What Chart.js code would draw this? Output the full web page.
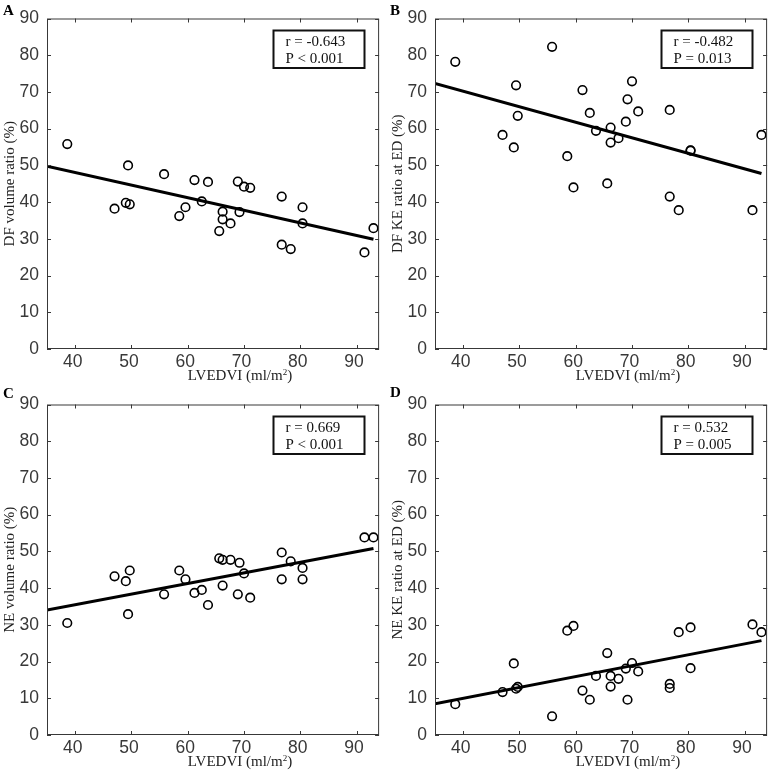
<!DOCTYPE html>
<html>
<head>
<meta charset="utf-8">
<script src="https://cdn.jsdelivr.net/npm/chart.js@4.4.1/dist/chart.umd.min.js"></script>
<style>
  html, body { margin: 0; padding: 0; background: #fff; overflow: hidden; width: 771px; height: 773px; }
  canvas { position: absolute; }
</style>
</head>
<body>
<canvas id="cA"></canvas>
<canvas id="cB"></canvas>
<canvas id="cC"></canvas>
<canvas id="cD"></canvas>
<script>
// ---------- data ----------
const xTicks = [40, 50, 60, 70, 80, 90];
const yTicks = [0, 10, 20, 30, 40, 50, 60, 70, 80, 90];

const lvedvi = [38.6, 47.0, 49.0, 49.4, 49.7, 55.8, 58.5, 59.6, 61.2, 62.5, 63.6, 65.6, 66.2,
                66.2, 67.6, 68.9, 69.2, 70.0, 71.1, 76.7, 76.7, 78.3, 80.4, 80.4, 91.4, 93.0];

const dfVolumeRatio = [55.8, 38.2, 39.8, 50.0, 39.4, 47.6, 36.2, 38.6, 46.0, 40.2, 45.5, 32.1, 37.4,
                       35.3, 34.2, 45.6, 37.3, 44.2, 43.9, 41.5, 28.4, 27.2, 38.6, 34.2, 26.3, 32.9];
const dfKERatio = [78.2, 58.3, 54.9, 71.8, 63.5, 82.3, 52.5, 44.0, 70.5, 64.3, 59.4, 45.1, 60.3,
                   56.2, 57.4, 61.9, 68.0, 72.9, 64.7, 65.1, 41.5, 37.8, 54.1, 54.0, 37.8, 58.3];
const neVolumeRatio = [30.5, 43.2, 41.9, 32.9, 44.8, 38.3, 44.8, 42.4, 38.7, 39.5, 35.4, 48.1, 47.7,
                       40.7, 47.7, 38.3, 46.9, 44.0, 37.4, 49.7, 42.4, 47.3, 45.5, 42.4, 53.8, 53.8];
const neKERatio = [8.4, 11.7, 19.5, 12.6, 13.1, 5.1, 28.4, 29.7, 12.1, 9.6, 16.1, 22.3, 16.1,
                   13.2, 15.3, 18.1, 9.6, 19.6, 17.3, 13.9, 12.8, 28.0, 29.3, 18.2, 30.1, 28.0];

// regression line end points
const fitX = [35, 93.0];
const fitDfVolume = [49.8, 29.9];
const fitDfKE = [72.3, 47.8];
const fitNeVolume = [34.0, 50.8];
const fitNeKE = [8.5, 25.7];

const panelLetters = ['A', 'B', 'C', 'D'];
const yTitles = ['DF volume ratio (%)', 'DF KE ratio at ED (%)', 'NE volume ratio (%)', 'NE KE ratio at ED (%)'];
const rTexts = ['r = -0.643', 'r = -0.482', 'r = 0.669', 'r = 0.532'];
const pTexts = ['P < 0.001', 'P = 0.013', 'P < 0.001', 'P = 0.005'];

// ---------- layout ----------
const panels = [
  { id: 'cA', plotL: 47, plotT: 16, letterX: 3, letterY: 15, y: dfVolumeRatio, fit: fitDfVolume },
  { id: 'cB', plotL: 435, plotT: 16, letterX: 390, letterY: 14.5, y: dfKERatio, fit: fitDfKE },
  { id: 'cC', plotL: 47, plotT: 402, letterX: 3, letterY: 398, y: neVolumeRatio, fit: fitNeVolume },
  { id: 'cD', plotL: 435, plotT: 402, letterX: 390, letterY: 397, y: neKERatio, fit: fitNeKE }
];
const PW = 334, PH = 333, LEFT = 47, TOP = 16, RIGHT = 4, BOTTOM = 40;
const AXIS = '#383838';

function makeChart(p, idx) {
  const cv = document.getElementById(p.id);
  const W = LEFT + PW + RIGHT, H = TOP + PH + BOTTOM;
  const cl = p.plotL - LEFT, ct = p.plotT - TOP;
  cv.width = W; cv.height = H;
  cv.style.left = cl + 'px'; cv.style.top = ct + 'px';
  cv.style.width = W + 'px'; cv.style.height = H + 'px';

  const decor = {
    id: 'decor' + idx,
    afterDraw(chart) {
      const ctx = chart.ctx;
      const a = chart.chartArea;
      const xs = chart.scales.x, ys = chart.scales.y;
      ctx.save();
      // box
      ctx.strokeStyle = AXIS;
      ctx.lineWidth = 1;
      ctx.strokeRect(a.left + 0.5, a.top + 0.5, a.right - a.left - 1, a.bottom - a.top - 1);
      // inward ticks
      ctx.beginPath();
      xTicks.forEach(v => {
        const px = Math.round(xs.getPixelForValue(v)) + 0.5;
        ctx.moveTo(px, a.bottom); ctx.lineTo(px, a.bottom - 4);
        ctx.moveTo(px, a.top); ctx.lineTo(px, a.top + 4);
      });
      yTicks.forEach(v => {
        const py = Math.round(ys.getPixelForValue(v)) + 0.5;
        ctx.moveTo(a.left, py); ctx.lineTo(a.left + 4, py);
        ctx.moveTo(a.right, py); ctx.lineTo(a.right - 4, py);
      });
      ctx.stroke();
      // stats box
      const bx = a.left + 226.5, by = a.top + 12, bw = 91, bh = 37.5;
      ctx.strokeStyle = '#111';
      ctx.lineWidth = 2;
      ctx.strokeRect(bx, by, bw, bh);
      ctx.fillStyle = '#111';
      ctx.font = '15px "Liberation Serif", "Times New Roman", serif';
      ctx.textAlign = 'left';
      ctx.textBaseline = 'alphabetic';
      ctx.fillText(rTexts[idx], bx + 12, by + 15.5);
      ctx.fillText(pTexts[idx], bx + 12, by + 32.5);
      // x axis title  LVEDVI (ml/m²)
      const xtY = a.bottom + 31;
      const main = 'LVEDVI (ml/m';
      ctx.font = '15px "Liberation Serif", "Times New Roman", serif';
      const wMain = ctx.measureText(main).width;
      const wClose = ctx.measureText(')').width;
      ctx.font = '9px "Liberation Serif", "Times New Roman", serif';
      const wSup = ctx.measureText('2').width;
      const total = wMain + wSup + wClose;
      let tx = a.left + 193 - total / 2;
      ctx.fillStyle = '#222';
      ctx.font = '15px "Liberation Serif", "Times New Roman", serif';
      ctx.fillText(main, tx, xtY);
      tx += wMain;
      ctx.font = '9px "Liberation Serif", "Times New Roman", serif';
      ctx.fillText('2', tx, xtY - 5.5);
      tx += wSup;
      ctx.font = '15px "Liberation Serif", "Times New Roman", serif';
      ctx.fillText(')', tx, xtY);
      // panel letter
      ctx.fillStyle = '#000';
      ctx.font = 'bold 15px "Liberation Serif", "Times New Roman", serif';
      ctx.fillText(panelLetters[idx], p.letterX - cl, p.letterY - ct);
      ctx.restore();
    }
  };

  return new Chart(cv, {
    type: 'scatter',
    data: {
      datasets: [
        {
          data: lvedvi.map((x, i) => ({ x: x, y: p.y[i] })),
          pointStyle: 'circle',
          pointRadius: 4.3,
          pointHoverRadius: 4.3,
          pointBorderWidth: 1.6,
          borderColor: '#000',
          backgroundColor: 'rgba(0,0,0,0)',
          showLine: false,
          order: 2
        },
        {
          type: 'line',
          data: fitX.map((x, i) => ({ x: x, y: p.fit[i] })),
          borderColor: '#000',
          borderWidth: 3,
          pointRadius: 0,
          fill: false,
          order: 1
        }
      ]
    },
    options: {
      responsive: false,
      animation: false,
      devicePixelRatio: 1,
      layout: { padding: { left: 0, top: TOP, right: RIGHT, bottom: 0 } },
      plugins: { legend: { display: false }, tooltip: { enabled: false } },
      events: [],
      scales: {
        x: {
          type: 'linear',
          min: 35, max: 94,
          afterBuildTicks: s => { s.ticks = xTicks.map(v => ({ value: v })); },
          afterFit: s => { s.height = BOTTOM; },
          grid: { display: false, drawTicks: false },
          border: { display: false },
          ticks: {
            color: AXIS,
            padding: 3,
            labelOffset: -2.5,
            maxRotation: 0,
            autoSkip: false,
            font: { family: '"Liberation Sans", Arial, Helvetica, sans-serif', size: 17.5 }
          }
        },
        y: {
          type: 'linear',
          min: 0, max: 90,
          afterBuildTicks: s => { s.ticks = yTicks.map(v => ({ value: v })); },
          afterFit: s => { s.width = LEFT; },
          grid: { display: false, drawTicks: false },
          border: { display: false },
          title: {
            display: true,
            text: yTitles[idx],
            color: '#222',
            padding: { top: 1, bottom: 0 },
            font: { family: '"Liberation Serif", "Times New Roman", serif', size: 15, lineHeight: 1.2 }
          },
          ticks: {
            color: AXIS,
            padding: 8,
            autoSkip: false,
            font: { family: '"Liberation Sans", Arial, Helvetica, sans-serif', size: 17.5 }
          }
        }
      }
    },
    plugins: [decor]
  });
}

panels.forEach((p, i) => makeChart(p, i));
</script>
</body>
</html>
